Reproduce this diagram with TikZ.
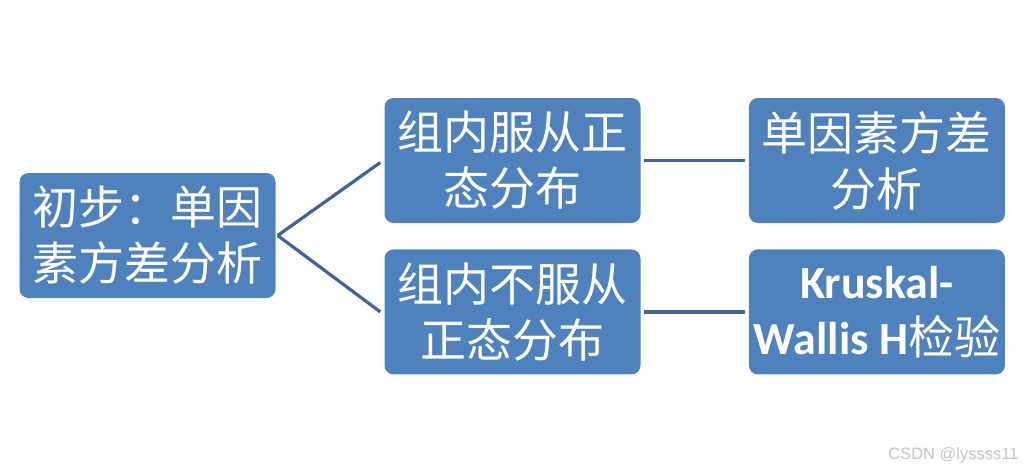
\documentclass[tikz,border=0pt]{standalone}
\usepackage{fontspec}
\newfontfamily\cjkfont{Noto Sans CJK SC}
\newfontfamily\kwfont{Carlito}
\newfontfamily\markfont{Liberation Sans}
\usetikzlibrary{positioning}
\definecolor{BoxBlue}{HTML}{4F81BD}
\definecolor{LinkBlue}{HTML}{3F6597}
\definecolor{MarkGray}{HTML}{C4C4C4}
\tikzset{
  stepbox/.style={rectangle,rounded corners=9pt,fill=BoxBlue,text=white,minimum width=256pt,minimum height=125pt,inner sep=0pt,align=center,font=\cjkfont\fontsize{46}{56}\selectfont},
  link/.style={line width=3.2pt,color=LinkBlue},
}

\begin{document}
\begin{tikzpicture}[x=1pt,y=1pt,node distance=26pt]
  \useasboundingbox (0,0) rectangle (1032,-472);
  % Start
  \node[stepbox] (init) at (147.5,-235.5) {初步：单因\\素方差分析};

  % Column 2: distribution check
  \node[stepbox] (normal) at (512.5,-160.5) {组内服从正\\态分布};
  \node[stepbox, below=of normal] (nonnormal) {组内不服从\\正态分布};

  % Column 3: tests
  \node[stepbox, right=108pt of normal] (anova) {单因素方差\\分析};
  \node[stepbox, right=108pt of nonnormal] (kw) {{\kwfont\bfseries Kruskal-}\\{\kwfont\bfseries Wallis H}检验};

  % Links
  \draw[link] ([xshift=2pt]init.east) -- ([xshift=-4pt,yshift=-2pt]normal.west);
  \draw[link] ([xshift=2pt]init.east) -- ([xshift=-4pt]nonnormal.west);
  \draw[link] ([xshift=3pt]normal.east) -- ([xshift=-4pt]anova.west);
  \draw[link] ([xshift=3pt]nonnormal.east) -- ([xshift=-4pt]kw.west);

  % Watermark
  \node[font=\markfont\fontsize{16.5}{20}\selectfont, text=MarkGray, anchor=east] (mark) at (1022,-455) {CSDN @lyssss11};
\end{tikzpicture}
\end{document}
